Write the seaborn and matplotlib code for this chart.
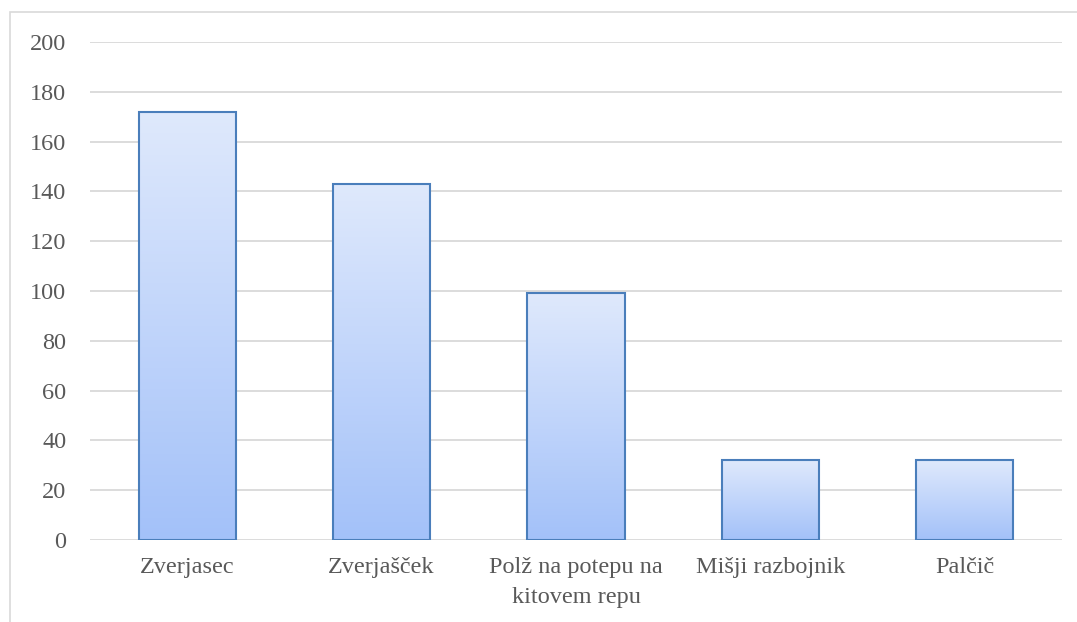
import numpy as np
import pandas as pd
import matplotlib
matplotlib.use("Agg")
import matplotlib.pyplot as plt
from matplotlib.colors import LinearSegmentedColormap
from matplotlib.patches import Rectangle
import seaborn as sns

# Data
books = ["Zverjasec", "Zverjašček", "Polž na potepu na kitovem repu", "Mišji razbojnik", "Palčič"]
counts = [172, 143, 99, 32, 32]
tick_labels = ["Zverjasec", "Zverjašček", "Polž na potepu na\nkitovem repu", "Mišji razbojnik", "Palčič"]
y_ticks = [0, 20, 40, 60, 80, 100, 120, 140, 160, 180, 200]

df = pd.DataFrame({"book": books, "count": counts})

sns.set_style("white")
plt.rcParams["font.family"] = ["Liberation Serif", "DejaVu Serif"]

fig = plt.figure(figsize=(10.77, 6.22), dpi=100)
ax = fig.add_axes([90 / 1077, 1 - 540 / 622, 972 / 1077, 498 / 622])

sns.barplot(data=df, x="book", y="count", ax=ax, width=0.5,
            facecolor="none", edgecolor="#4a7ebb", linewidth=1.5, zorder=3)

# gradient fill inside each bar
grad = LinearSegmentedColormap.from_list("g", ["#a3c1f9", "#dfe9fc"])
gimg = np.linspace(0, 1, 256).reshape(-1, 1)
for p in ax.patches:
    x0, y0 = p.get_x(), p.get_y()
    w, h = p.get_width(), p.get_height()
    im = ax.imshow(gimg, cmap=grad, aspect="auto", origin="lower",
                   extent=[x0, x0 + w, y0, y0 + h], zorder=2)
    im.set_clip_path(p)

ax.set_xlim(-0.5, len(books) - 0.5)
ax.set_ylim(0, 200)
ax.set_yticks(y_ticks)
ax.set_xticks(range(len(books)))
ax.set_xticklabels(tick_labels, linespacing=1.6)
ax.grid(axis="y", color="#d9d9d9", linewidth=1.3, zorder=0)
ax.set_axisbelow(True)
for s in ["top", "right", "left", "bottom"]:
    ax.spines[s].set_visible(False)
ax.tick_params(axis="both", length=0, labelsize=17.5, colors="#595959")
ax.tick_params(axis="y", pad=17)
ax.tick_params(axis="x", pad=12)
ax.set_xlabel("")
ax.set_ylabel("")

# outer chart frame
fig.patches.append(Rectangle((10 / 1077, -0.1), 1.2, 1.1 - 12 / 622,
                             transform=fig.transFigure, fill=False,
                             edgecolor="#d9d9d9", linewidth=1.2))

fig.savefig("out.png", dpi=100)
